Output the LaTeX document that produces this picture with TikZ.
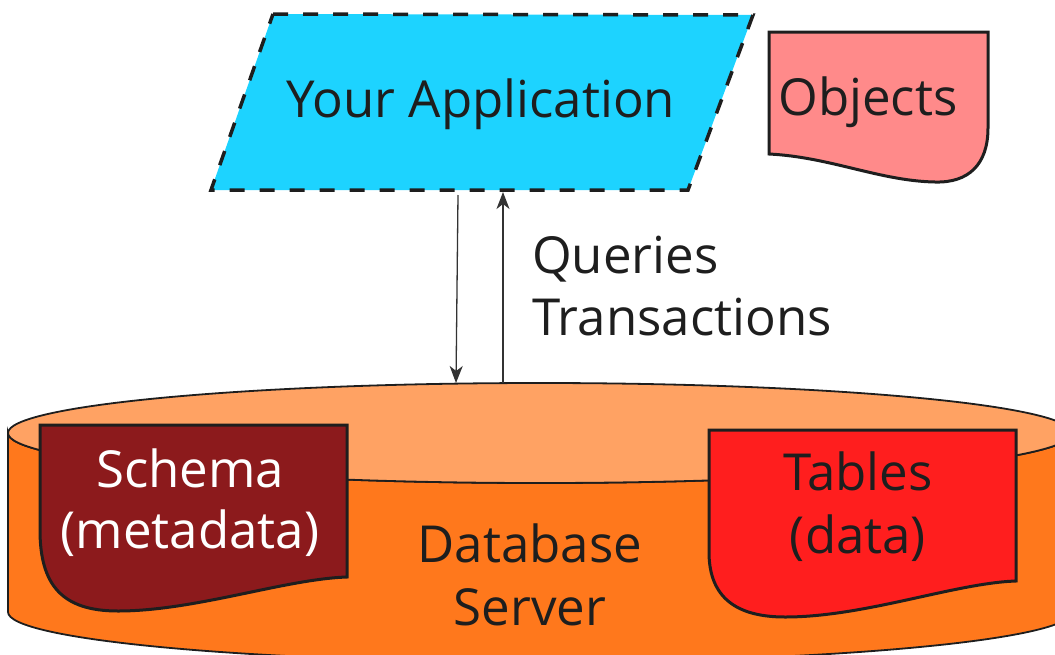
\documentclass[tikz,border=0pt]{standalone}
\usepackage{fontspec}
\setmainfont{Open Sans}
\usetikzlibrary{arrows.meta}
\definecolor{appfill}{HTML}{1DD3FF}
\definecolor{objfill}{HTML}{FF8A8A}
\definecolor{dbtop}{HTML}{FFA263}
\definecolor{dbside}{HTML}{FF781C}
\definecolor{schemafill}{HTML}{8C1A1C}
\definecolor{tablefill}{HTML}{FF1E1E}
\definecolor{ink}{HTML}{1E1E1E}
\definecolor{wire}{HTML}{333333}
\tikzset{
  label text/.style={font=\fontsize{51}{61}\selectfont, text=ink, inner sep=0pt},
  doc border/.style={draw=ink, line width=3pt, line join=miter},
  db border/.style={draw=ink, line width=1.8pt},
  flow/.style={draw=wire, line width=1.3pt,
    -{Stealth[length=17pt, width=13pt, inset=5pt]}},
}
\begin{document}
\begin{tikzpicture}[x=1pt, y=-1pt]
\useasboundingbox (0,0) rectangle (1055,654);
\clip (0,0) rectangle (1055,654);

% database server cylinder: side wall, then the lid
\path[db border, fill=dbside]
  (8,433) -- (8,612) arc[start angle=180, end angle=0, x radius=532, y radius=50]
  -- (1072,433) arc[start angle=0, end angle=180, x radius=532, y radius=50] -- cycle;
\path[db border, fill=dbtop] (540,433) ellipse [x radius=532, y radius=50];

% schema document inside the server
\path[doc border, fill=schemafill]
  (40,425) -- (347,425) -- (347,577)
  .. controls (285,579) and (195,611) .. (118,611)
  .. controls (62,611) and (40,585) .. (40,530) -- cycle;

% tables document inside the server
\path[doc border, fill=tablefill]
  (709,430) -- (1016,430) -- (1016,581)
  .. controls (955,583) and (865,617) .. (785,617)
  .. controls (730,617) and (709,592) .. (709,552) -- cycle;

% application parallelogram
\path[draw=ink, line width=3.5pt, dash pattern=on 15pt off 15pt, fill=appfill]
  (273,14) -- (753,15) -- (688,190) -- (211,190) -- cycle;

% objects document
\path[doc border, fill=objfill]
  (769,32) -- (988,32) -- (988,128)
  .. controls (988,165) and (968,183) .. (935,182)
  .. controls (880,181) and (830,157) .. (769,154) -- cycle;

% labels
\node[label text, anchor=base] (app) at (481,117) {Your Application};
\node[label text, anchor=base] (obj) at (868,115) {Objects};
\node[label text, anchor=base west] (q1) at (532,273) {Queries};
\node[label text, anchor=base west] (q2) at (532,335) {Transactions};
\node[label text, anchor=base, text=white] (sc1) at (190,487) {Schema};
\node[label text, anchor=base, text=white] (sc2) at (190,548) {(metadata)};
\node[label text, anchor=base] (tb1) at (858,490) {Tables};
\node[label text, anchor=base] (tb2) at (858,553) {(data)};
\node[label text, anchor=base] (db1) at (530,562) {Database};
\node[label text, anchor=base] (db2) at (530,625) {Server};

% connector end points on the application and on the server lid
\coordinate (appOut) at (458,195);
\coordinate (dbIn) at (456,383);
\coordinate (dbOut) at (503,383);
\coordinate (appIn) at (503,192);
\draw[flow] (appOut) -- (dbIn);
\draw[flow] (dbOut) -- (appIn);
\end{tikzpicture}
\end{document}
